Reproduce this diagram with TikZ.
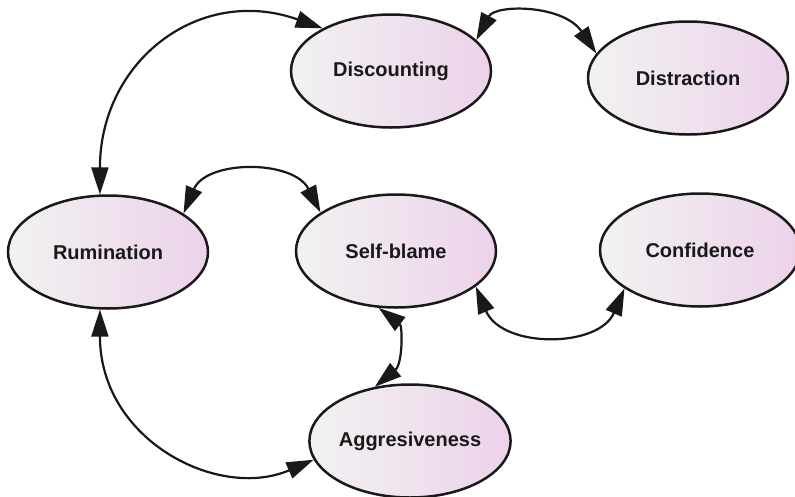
\documentclass[tikz,border=0pt]{standalone}
\usepackage{fontspec}
\setmainfont{Liberation Sans}
\usetikzlibrary{arrows.meta,shapes.geometric}
\definecolor{pinkfill}{RGB}{236,210,234}
\definecolor{grayfill}{RGB}{242,242,242}
\definecolor{ink}{RGB}{25,25,25}
\begin{document}
\begin{tikzpicture}[x=1pt,y=-1pt,
  state/.style={ellipse, draw=ink, line width=2.5pt, minimum width=200pt, minimum height=113pt,
    inner sep=0pt, left color=grayfill, right color=pinkfill, shading angle=90,
    font=\fontsize{20}{22}\selectfont\bfseries, text=ink},
  conn/.style={ink, line width=2.2pt, {Triangle[length=27pt,width=17pt]}-{Triangle[length=27pt,width=17pt]}}
]
\useasboundingbox[fill=white] (0,0) rectangle (795,496);
\node[state] (disc) at (391,71) {Discounting};
\node[state] (dist) at (688,78) {Distraction};
\node[state] (rum) at (108,252) {Rumination};
\node[state] (self) at (396,251) {Self-blame};
\node[state] (conf) at (700,250) {Confidence};
\node[state] (agg) at (410,441) {Aggresiveness};

\draw[conn] (rum.98) .. controls +(0,-133) and +(-124,-44) .. (disc.148);
\draw[conn] (disc.20) .. controls +(19,-36) and +(-33,-49) .. (dist.165);
\draw[conn] (rum.27) .. controls +(23,-54) and +(-27,-53) .. (self.153);
\draw[conn] (self.-24) .. controls +(26,62) and +(-26,60) .. (conf.207);
\draw[conn] (self.253) .. controls +(24,18) and +(28,-23) .. (agg.123);
\draw[conn] (rum.262) .. controls +(0,131) and +(-95,41) .. (agg.191);
\end{tikzpicture}
\end{document}
